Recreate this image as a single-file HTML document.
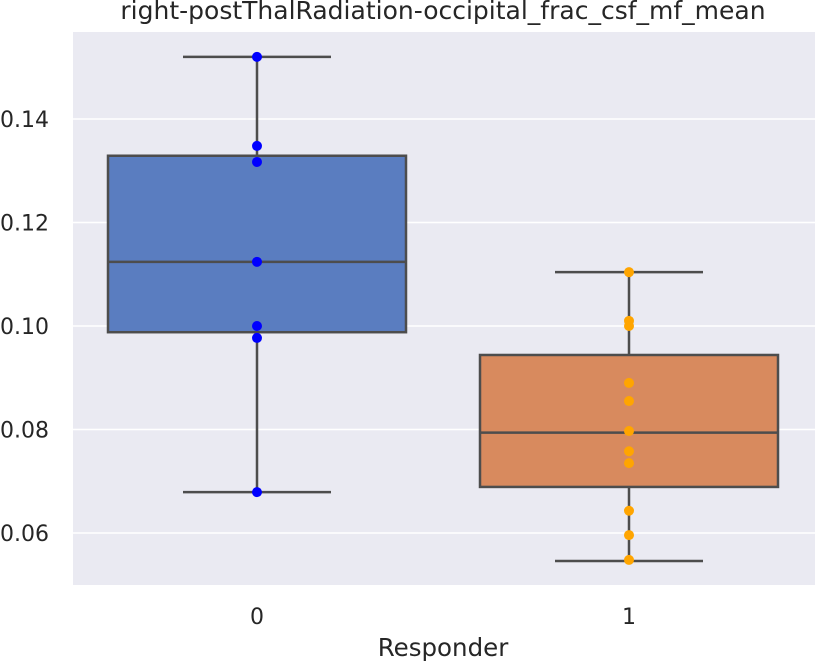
<!DOCTYPE html>
<html><head><meta charset="utf-8"><style>
html,body{margin:0;padding:0;background:#fff;}
svg{display:block;font-family:"DejaVu Sans","Liberation Sans",sans-serif;}
</style></head><body>
<svg id="chart" width="815" height="661" viewBox="0 0 815 661"></svg>
<script>
const categories = ["0","1"];
const whiskerHigh = [0.1520, 0.1104];
const q3 = [0.1329, 0.0944];
const medians = [0.1124, 0.0794];
const q1 = [0.0988, 0.0689];
const whiskerLow = [0.0679, 0.0546];
const points0 = [0.1520,0.1348,0.1317,0.1124,0.1000,0.0977,0.0679];
const points1 = [0.1104,0.1010,0.1000,0.0890,0.0855,0.0797,0.0758,0.0735,0.0643,0.0596,0.0548];
const yTicks = [0.06,0.08,0.10,0.12,0.14];
const yTickLabels = ["0.06","0.08","0.10","0.12","0.14"];

const NS="http://www.w3.org/2000/svg";
const svg=document.getElementById('chart');
const L=73,R=815,T=32,B=585;
function y(v){return 326-(v-0.10)*5175;}
function x(i){return 257+i*372;}
function mk(tag,attrs,parent){const e=document.createElementNS(NS,tag);for(const k in attrs)e.setAttribute(k,attrs[k]);(parent||svg).appendChild(e);return e;}

const bg=mk('rect',{x:L,y:T,width:R-L,height:B-T,fill:'#eaeaf2'});


yTicks.forEach((t,i)=>{
  const g=mk('line',{x1:L,x2:R,y1:y(t),y2:y(t),stroke:'#fff','stroke-width':1.5});
  
  
  const tx=mk('text',{x:49,y:y(t)+8,'text-anchor':'end','font-size':22,fill:'#262626'});
  tx.textContent=yTickLabels[i];
  
  
});
const fills=['#5a7dc0','#d88a5e'];
const ptColors=['#0000ff','#ffa500'];
const pts=[points0,points1];
const bw=298, ww=148;
categories.forEach((c,i)=>{
  const cx=x(i);
  const g=mk('g',{});
  
  
  const st={stroke:'#4d4d4d','stroke-width':2.5};
  mk('line',Object.assign({x1:cx,x2:cx,y1:y(whiskerHigh[i]),y2:y(q3[i])},st),g);
  mk('line',Object.assign({x1:cx,x2:cx,y1:y(q1[i]),y2:y(whiskerLow[i])},st),g);
  mk('line',Object.assign({x1:cx-ww/2,x2:cx+ww/2,y1:y(whiskerHigh[i]),y2:y(whiskerHigh[i])},st),g);
  mk('line',Object.assign({x1:cx-ww/2,x2:cx+ww/2,y1:y(whiskerLow[i]),y2:y(whiskerLow[i])},st),g);
  const box=mk('rect',Object.assign({x:cx-bw/2,y:y(q3[i]),width:bw,height:y(q1[i])-y(q3[i]),fill:fills[i]},st),g);
  
  
  mk('line',Object.assign({x1:cx-bw/2,x2:cx+bw/2,y1:y(medians[i]),y2:y(medians[i])},st),g);
  pts[i].forEach(v=>{
    const p=mk('circle',{cx:cx,cy:y(v),r:5,fill:ptColors[i]},g);
    
    
  });
  const tl=mk('text',{x:cx,y:624,'text-anchor':'middle','font-size':22,fill:'#262626'});
  tl.textContent=c;
  
  
});
const xt=mk('text',{x:443,y:656,'text-anchor':'middle','font-size':24.5,fill:'#262626'});
xt.textContent='Responder';


const tt=mk('text',{x:443,y:19,'text-anchor':'middle','font-size':25,fill:'#262626'});
tt.textContent='right-postThalRadiation-occipital_frac_csf_mf_mean';


</script>
</body></html>
